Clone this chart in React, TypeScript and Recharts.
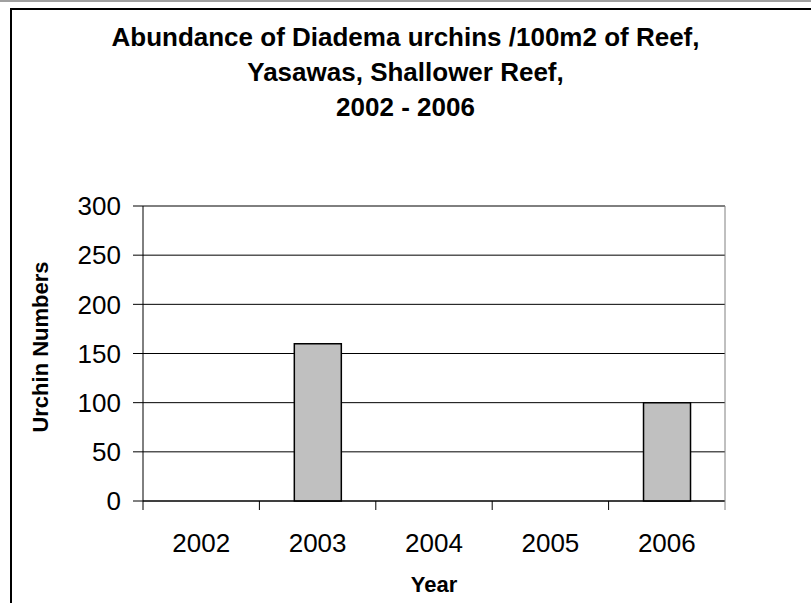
import {
  Bar,
  BarChart,
  CartesianGrid,
  ReferenceLine,
  XAxis,
  YAxis,
} from "recharts";

const years = ["2002", "2003", "2004", "2005", "2006"];
const urchins = [0, 160, 0, 0, 100];
const yTicks = [0, 50, 100, 150, 200, 250, 300];

const titleLines = [
  "Abundance of Diadema urchins /100m2 of Reef,",
  "Yasawas, Shallower Reef,",
  "2002 - 2006",
];

const data = years.map((year, i) => ({ year, urchins: urchins[i] }));

const font = "'Liberation Sans', Arial, sans-serif";

function YearTick(props: any) {
  const { x, y, payload, index, visibleTicksCount } = props;
  const half = payload?.offset ?? 58;
  const last = index === visibleTicksCount - 1;
  return (
    <g>
      <line x1={x - half} y1={y} x2={x - half} y2={y + 9} stroke="#000" />
      {last && (
        <line x1={x + half} y1={y} x2={x + half} y2={y + 9} stroke="#808080" />
      )}
      <text
        x={x}
        y={y + 51}
        textAnchor="middle"
        fontFamily={font}
        fontSize={26}
        fill="#000"
      >
        {payload.value}
      </text>
    </g>
  );
}

export default function App() {
  return (
    <div
      style={{
        position: "absolute",
        left: 0,
        top: 0,
        width: 811,
        height: 603,
        overflow: "hidden",
        background: "#fff",
      }}
    >
      <div
        style={{
          position: "absolute",
          left: 0,
          top: 0,
          width: 811,
          height: 2,
          background: "#a0a0a0",
        }}
      />
      <div
        style={{
          position: "absolute",
          left: 10,
          top: 8,
          width: 900,
          height: 700,
          border: "2px solid #000",
        }}
      />

      <div
        style={{
          position: "absolute",
          left: 0,
          top: 20,
          width: 811,
          textAlign: "center",
          fontFamily: font,
          fontWeight: "bold",
          fontSize: 26,
          lineHeight: "35px",
          color: "#000",
        }}
      >
        {titleLines.map((t) => (
          <div key={t}>{t}</div>
        ))}
      </div>

      <div
        style={{
          position: "absolute",
          left: 41,
          top: 347,
          transform: "translate(-50%, -50%) rotate(-90deg)",
          whiteSpace: "nowrap",
          fontFamily: font,
          fontWeight: "bold",
          fontSize: 22,
          color: "#000",
        }}
      >
        Urchin Numbers
      </div>

      <div
        style={{
          position: "absolute",
          left: 434,
          top: 585,
          transform: "translate(-50%, -50%)",
          whiteSpace: "nowrap",
          fontFamily: font,
          fontWeight: "bold",
          fontSize: 22,
          color: "#000",
        }}
      >
        Year
      </div>

      <div style={{ position: "absolute", left: 0, top: 0 }}>
        <BarChart
          width={811}
          height={603}
          data={data}
          margin={{ top: 206, right: 85, bottom: 42, left: 83 }}
          barCategoryGap="30%"
        >
          <CartesianGrid vertical={false} stroke="#000" />
          <XAxis
            dataKey="year"
            tickLine={false}
            tickSize={0}
            tickMargin={0}
            height={60}
            axisLine={{ stroke: "#000" }}
            tick={<YearTick />}
            interval={0}
          />
          <YAxis
            domain={[0, 300]}
            ticks={yTicks}
            interval={0}
            width={60}
            tickSize={10}
            tickMargin={12}
            axisLine={{ stroke: "#000" }}
            tickLine={{ stroke: "#000" }}
            tick={{ fill: "#000", fontSize: 26, fontFamily: font }}
          />
          <YAxis
            yAxisId="frame"
            orientation="right"
            width={1}
            tick={false}
            tickLine={false}
            axisLine={{ stroke: "#808080" }}
          />
          <ReferenceLine y={300} stroke="#808080" />
          <Bar
            dataKey="urchins"
            fill="#c0c0c0"
            stroke="#000"
            strokeWidth={1.5}
            isAnimationActive={false}
          />
        </BarChart>
      </div>
    </div>
  );
}
